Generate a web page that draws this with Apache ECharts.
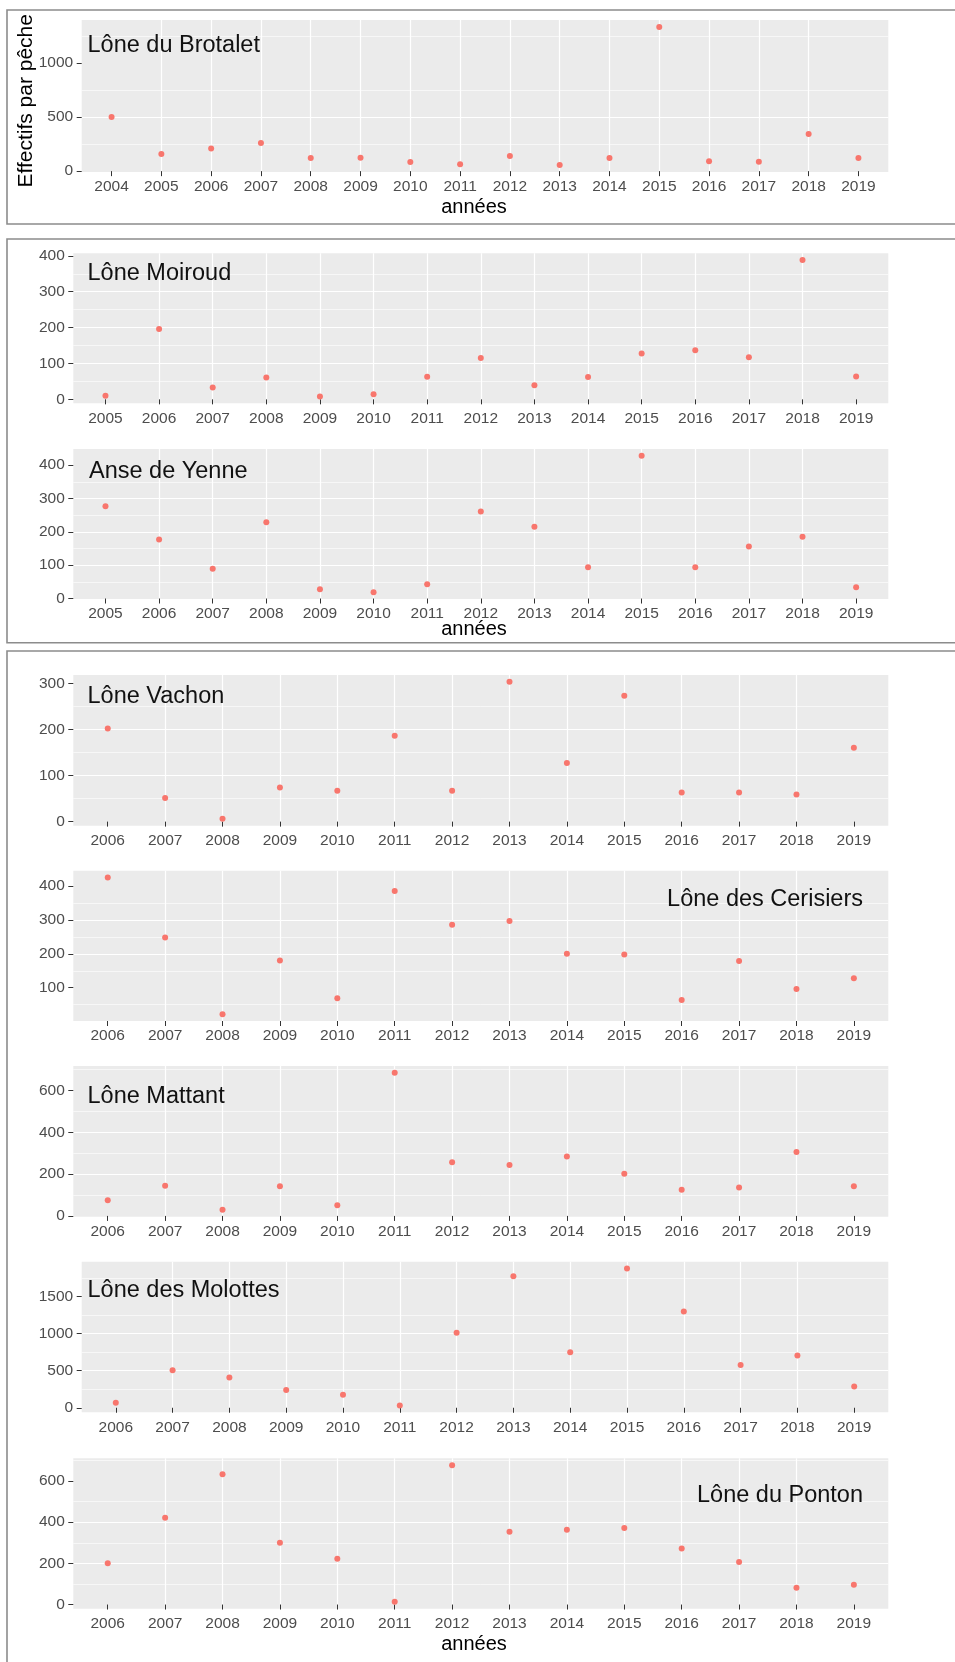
<!DOCTYPE html>
<html><head><meta charset="utf-8">
<script src="https://cdn.jsdelivr.net/npm/echarts@6/dist/echarts.min.js"></script>
<style>html,body{margin:0;padding:0;background:#fff}#c{width:955px;height:1662px}</style>
</head><body><div id="c"></div>
<script>
// ---------- DATA ----------
const siteNames = ['Lône du Brotalet','Lône Moiroud','Anse de Yenne','Lône Vachon','Lône des Cerisiers','Lône Mattant','Lône des Molottes','Lône du Ponton'];
const years2004 = [2004,2005,2006,2007,2008,2009,2010,2011,2012,2013,2014,2015,2016,2017,2018,2019];
const years2005 = [2005,2006,2007,2008,2009,2010,2011,2012,2013,2014,2015,2016,2017,2018,2019];
const years2006 = [2006,2007,2008,2009,2010,2011,2012,2013,2014,2015,2016,2017,2018,2019];
const effBrotalet  = [500,159,209,260,122,125,84,63,141,56,122,1334,91,87,344,122];
const effMoiroud   = [10,196,33,61,8,14,63,115,39,62,128,137,117,388,64];
const effYenne     = [277,177,89,229,28,19,43,261,215,94,428,94,156,185,34];
const effVachon    = [202,51,6,74,67,186,67,303,127,273,63,63,59,160];
const effCerisiers = [425,248,22,180,69,385,286,297,200,198,64,179,96,128];
const effMattant   = [75,144,29,142,51,684,257,243,284,201,125,136,305,142];
const effMolottes  = [67,505,407,241,174,31,1013,1774,748,1878,1298,577,705,286];
const effPonton    = [201,421,633,300,222,13,677,354,363,372,272,207,81,96];
const yBreakStep   = [500,100,100,100,100,200,500,200];
const xTitle = 'années';
const yTitle = 'Effectifs par pêche';

const panelYears = [years2004,years2005,years2005,years2006,years2006,years2006,years2006,years2006];
const panelVals  = [effBrotalet,effMoiroud,effYenne,effVachon,effCerisiers,effMattant,effMolottes,effPonton];

// ---------- LAYOUT ----------
const layout = [
  {left:81.7, top:20,     w:806.6, h:152,   nx:87.5, ny:52.7,   na:'left'},
  {left:73.3, top:253.3,  w:815,   h:150,   nx:87.5, ny:281,    na:'left'},
  {left:73.3, top:449,    w:815,   h:150,   nx:89,   ny:479.3,  na:'left'},
  {left:73.3, top:675,    w:815,   h:150.7, nx:87.5, ny:704,    na:'left'},
  {left:73.3, top:870.7,  w:815,   h:150.3, nx:863,  ny:906.7,  na:'right'},
  {left:73.3, top:1066,   w:815,   h:150.7, nx:87.5, ny:1104,   na:'left'},
  {left:81.7, top:1261.7, w:806.6, h:150.6, nx:87.5, ny:1298.3, na:'left'},
  {left:73.3, top:1458.3, w:815,   h:150.4, nx:863,  ny:1502.7, na:'right'}
];
const FONT = "'Liberation Sans', Arial, Helvetica, sans-serif";
const NAME_FS = 23.5;
const grids=[], xAxes=[], yAxes=[], series=[];

function ticksIn(lo,hi,step){const out=[];for(let k=Math.ceil(lo/step);k<=Math.floor(hi/step);k++)out.push(k*step);return out;}

for(let i=0;i<8;i++){
  const L=layout[i], yrs=panelYears[i], vals=panelVals[i];
  const vmin=Math.min(...vals), vmax=Math.max(...vals), d=(vmax-vmin)*0.05;
  const ylo=vmin-d, yhi=vmax+d;
  const xlo=yrs[0]-0.6, xhi=yrs[yrs.length-1]+0.6;
  const step=yBreakStep[i];
  const yt=ticksIn(ylo,yhi,step);
  grids.push({left:L.left, top:L.top, width:L.w, height:L.h, show:true, backgroundColor:'#EBEBEB', borderWidth:0, containLabel:false});
  xAxes.push({type:'value', gridIndex:i, min:xlo, max:xhi, splitNumber:yrs.length,
    axisLine:{show:false},
    axisTick:{show:true, length:5, lineStyle:{color:'#333333', width:1}, customValues:yrs},
    axisLabel:{color:'#4D4D4D', fontSize:15.5, fontFamily:FONT, margin:7, customValues:yrs,
      formatter:v=>String(Math.round(v))},
    splitLine:{show:true, showMinLine:false, showMaxLine:false, lineStyle:{color:'#FFFFFF', width:1.2}},
    minorSplitLine:{show:false}});
  yAxes.push({type:'value', gridIndex:i, min:ylo, max:yhi, splitNumber:Math.max(1,Math.round((yhi-ylo)/step)),
    axisLine:{show:false},
    axisTick:{show:true, length:5, lineStyle:{color:'#333333', width:1}, customValues:yt},
    axisLabel:{color:'#4D4D4D', fontSize:15.5, fontFamily:FONT, margin:8.5, customValues:yt,
      formatter:v=>String(Math.round(v))},
    splitLine:{show:true, showMinLine:false, showMaxLine:false, lineStyle:{color:'#FFFFFF', width:1.2}},
    minorTick:{show:false, splitNumber:2},
    minorSplitLine:{show:true, lineStyle:{color:'#FFFFFF', width:0.6}}});
  series.push({type:'scatter', xAxisIndex:i, yAxisIndex:i, symbolSize:6, silent:true,
    itemStyle:{color:'#F8766D', opacity:1},
    data:yrs.map((y,j)=>[y,vals[j]])});
}

const graphics=[];
// frame boxes
[[7,10,214],[7,239,403.7],[7,651,1030]].forEach(b=>{
  graphics.push({type:'rect', shape:{x:b[0], y:b[1], width:980, height:b[2]}, style:{fill:'none', stroke:'#8C8C8C', lineWidth:1.6}, silent:true});
});
// panel names
for(let i=0;i<8;i++){
  const L=layout[i];
  graphics.push({type:'text', x:L.nx, y:L.ny-0.31*NAME_FS, silent:true, z:10,
    style:{text:siteNames[i], font:NAME_FS+"px "+FONT, fill:'#111111', textAlign:L.na, textVerticalAlign:'middle'}});
}
// axis titles
[213.3,636,1651].forEach(bl=>{
  graphics.push({type:'text', x:474, y:bl-0.31*20, silent:true,
    style:{text:xTitle, font:"20px "+FONT, fill:'#000000', textAlign:'center', textVerticalAlign:'middle'}});
});
graphics.push({type:'text', x:26, y:100.8, rotation:Math.PI/2, silent:true,
  style:{text:yTitle, font:"21px "+FONT, fill:'#000000', textAlign:'center', textVerticalAlign:'middle'}});

const chart=echarts.init(document.getElementById('c'),null,{renderer:'canvas'});
chart.setOption({animation:false, backgroundColor:'#FFFFFF', grid:grids, xAxis:xAxes, yAxis:yAxes, series:series, graphic:{elements:graphics}});
</script></body></html>
